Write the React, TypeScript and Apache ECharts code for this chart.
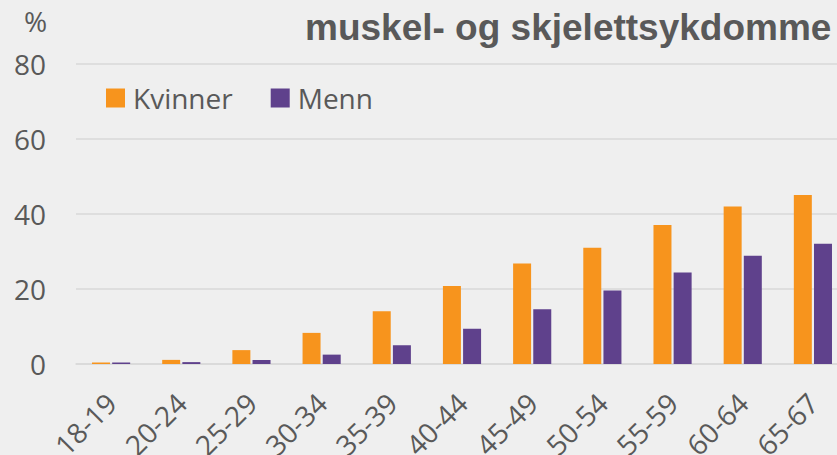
import React, { useEffect, useRef } from "react";
import * as echarts from "echarts";

const categories = ["18-19", "20-24", "25-29", "30-34", "35-39", "40-44", "45-49", "50-54", "55-59", "60-64", "65-67"];
const kvinner = [0.4, 1.1, 3.7, 8.3, 14.1, 20.8, 26.8, 31.0, 37.1, 42.0, 45.1];
const menn = [0.4, 0.5, 1.1, 2.5, 5.0, 9.4, 14.6, 19.6, 24.4, 28.9, 32.1];
const yTicks = { min: 0, max: 80, interval: 20 };
const titleText = "muskel- og skjelettsykdomme";

const ORANGE = "#F7941D";
const PURPLE = "#5F418C";
const TEXT = "#595959";
const FONT = "'Open Sans', 'Noto Sans', sans-serif";

export default function App() {
  const ref = useRef<HTMLDivElement>(null);
  useEffect(() => {
    if (!ref.current) return;
    const chart = echarts.init(ref.current, undefined, { renderer: "svg" });
    chart.setOption({
      animation: false,
      backgroundColor: "#EFEFEF",
      grid: { left: 76, right: 12, top: 64, bottom: 91, containLabel: false, outerBoundsMode: "none" },
      legend: {
        left: 106,
        top: 84,
        padding: 0,
        itemWidth: 19,
        itemHeight: 19,
        itemGap: 38,
        icon: "rect",
        textStyle: { color: TEXT, fontSize: 28, fontFamily: FONT, padding: [0, 0, 0, 3] },
        data: ["Kvinner", "Menn"],
      },
      xAxis: {
        type: "category",
        data: categories,
        axisLine: { show: true, lineStyle: { color: "#D9D9D9", width: 1.5 } },
        axisTick: { show: false },
        axisLabel: { rotate: 45, color: TEXT, fontSize: 28, fontFamily: FONT, margin: 34, interval: 0 },
      },
      yAxis: {
        type: "value",
        min: yTicks.min,
        max: yTicks.max,
        interval: yTicks.interval,
        axisLine: { show: false },
        axisTick: { show: false },
        splitLine: { lineStyle: { color: "#D9D9D9", width: 1.5 } },
        axisLabel: { color: TEXT, fontSize: 28, fontFamily: FONT, margin: 30 },
      },
      series: [
        { name: "Kvinner", type: "bar", data: kvinner, barWidth: 18, barGap: "12%", itemStyle: { color: ORANGE } },
        { name: "Menn", type: "bar", data: menn, barWidth: 18, barGap: "12%", itemStyle: { color: PURPLE } },
      ],
      graphic: [
        {
          type: "text",
          left: 24,
          top: 7,
          style: { text: "%", fill: TEXT, fontSize: 28, fontFamily: FONT },
        },
        {
          type: "text",
          x: 305,
          y: 27,
          style: {
            text: titleText,
            fill: TEXT,
            fontSize: 37,
            fontWeight: "bold",
            fontFamily: "'Liberation Sans', Arial, sans-serif",
            verticalAlign: "middle",
            align: "left",
          },
        },
      ],
    });
    return () => chart.dispose();
  }, []);
  return (
    <div style={{ position: "absolute", left: 0, top: 0, width: 837, height: 455, overflow: "hidden" }}>
      <div ref={ref} style={{ width: 860, height: 455 }} />
    </div>
  );
}
